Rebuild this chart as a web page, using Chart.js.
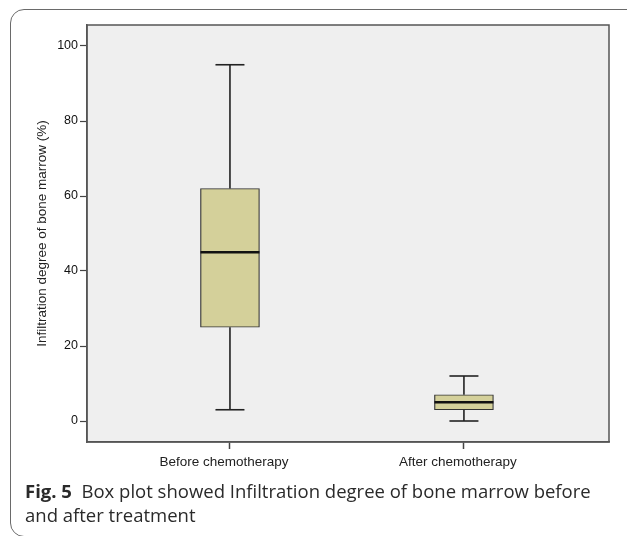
<!DOCTYPE html>
<html>
<head>
<meta charset="utf-8">
<script src="https://cdn.jsdelivr.net/npm/chart.js@4"></script>
<style>
  body { margin: 0; background: #fff; width: 627px; height: 536px; overflow: hidden; position: relative; }
  #frame { position: absolute; left: 10px; top: 9px; width: 640px; height: 528px; border: 1.5px solid #6a6a6a; border-radius: 14px; box-sizing: border-box; }
  #wrap { position: absolute; left: 0; top: 0; width: 627px; height: 490px; }
  #caption { position: absolute; left: 25px; top: 479px; white-space: nowrap; font-family: 'Open Sans', 'Noto Sans', sans-serif; font-size: 18.5px; line-height: 24px; color: #2a2a2a; }
  #caption b { font-weight: 700; }
</style>
</head>
<body>
<div id="frame"></div>
<div id="wrap"><canvas id="box-chart"></canvas></div>
<div id="caption"><b>Fig. 5</b>&nbsp; Box plot showed Infiltration degree of bone marrow before<br>and after treatment</div>
<script>
// Werte
const categories = ['Before chemotherapy', 'After chemotherapy'];
const whiskerLow = [3, 0];
const q1 = [25, 3];
const median = [45, 5];
const q3 = [62, 7];
const whiskerHigh = [95, 12];
const yTicks = [0, 20, 40, 60, 80, 100];

document.addEventListener('DOMContentLoaded', function () {

    Chart.defaults.font.family = "'Liberation Sans', Arial, sans-serif";
    Chart.defaults.color = '#222';

    const boxFill = '#d4d09a';
    const lineDark = '#222';

    // Hintergrund und Rahmen der Zeichenfläche
    const plotFrame = {
        id: 'plotFrame',
        beforeDraw(chart) {
            const a = chart.chartArea;
            const ctx = chart.ctx;
            ctx.save();
            ctx.fillStyle = '#efefef';
            ctx.fillRect(a.left, a.top, a.right - a.left, a.bottom - a.top);
            ctx.restore();
        },
        beforeDatasetsDraw(chart) {
            const a = chart.chartArea;
            const ctx = chart.ctx;
            ctx.save();
            ctx.strokeStyle = '#555';
            ctx.lineWidth = 1.5;
            ctx.strokeRect(a.left, a.top, a.right - a.left, a.bottom - a.top);
            ctx.restore();
        }
    };

    const datasets = [];

    // Boxen (Q1 bis Q3)
    datasets.push({
        type: 'bar',
        data: categories.map((c, i) => ({ x: i + 1, y: [q1[i], q3[i]] })),
        backgroundColor: boxFill,
        borderColor: '#333',
        borderWidth: 1.2,
        borderSkipped: false,
        barThickness: 59,
        order: 3
    });

    // Whisker mit Endstrichen
    categories.forEach((c, i) => {
        [[q3[i], whiskerHigh[i]], [q1[i], whiskerLow[i]]].forEach(pair => {
            datasets.push({
                type: 'line',
                data: [{ x: i + 1, y: pair[0] }, { x: i + 1, y: pair[1] }],
                borderColor: lineDark,
                borderWidth: 1.6,
                pointStyle: 'line',
                pointRadius: [0, 14.5],
                pointBorderWidth: 1.6,
                pointBorderColor: lineDark,
                order: 2
            });
        });
    });

    // Median
    datasets.push({
        type: 'line',
        showLine: false,
        data: categories.map((c, i) => ({ x: i + 1, y: median[i] })),
        pointStyle: 'line',
        pointRadius: 29.5,
        pointBorderWidth: 2.6,
        pointBorderColor: '#111',
        order: 1
    });

    const ctx = document.getElementById('box-chart').getContext('2d');
    const boxChart = new Chart(ctx, {
        type: 'bar',
        data: { datasets: datasets },
        options: {
            responsive: true,
            maintainAspectRatio: false,
            animation: false,
            layout: { autoPadding: false, padding: { left: 0, right: 18, top: 25, bottom: 0 } },
            plugins: { legend: { display: false }, tooltip: { enabled: false } },
            scales: {
                x: {
                    type: 'linear',
                    offset: false,
                    min: 0.389,
                    max: 2.62,
                    afterBuildTicks: scale => { scale.ticks = categories.map((c, i) => ({ value: i + 1 })); },
                    afterFit: scale => { scale.height = 48; },
                    ticks: {
                        callback: v => categories[Math.round(v) - 1],
                        font: { size: 13.5 },
                        padding: 5,
                        labelOffset: -6,
                        maxRotation: 0,
                        autoSkip: false
                    },
                    grid: { drawOnChartArea: false, offset: false, tickLength: 7, tickColor: '#444', tickWidth: 1.5 },
                    border: { color: '#555', width: 1.5 }
                },
                y: {
                    min: -5.6,
                    max: 105.6,
                    afterBuildTicks: scale => { scale.ticks = yTicks.map(v => ({ value: v })); },
                    afterFit: scale => { scale.width = 87; },
                    ticks: { font: { size: 12.5 }, padding: 2, color: '#111' },
                    grid: { drawOnChartArea: false, tickLength: 7, tickColor: '#444', tickWidth: 1.2 },
                    border: { color: '#555', width: 1.5 },
                    title: {
                        display: true,
                        text: 'Infiltration degree of bone marrow (%)',
                        font: { size: 13.5 },
                        padding: { top: 34, bottom: 0 }
                    }
                }
            }
        },
        plugins: [plotFrame]
    });
});
</script>
</body>
</html>
